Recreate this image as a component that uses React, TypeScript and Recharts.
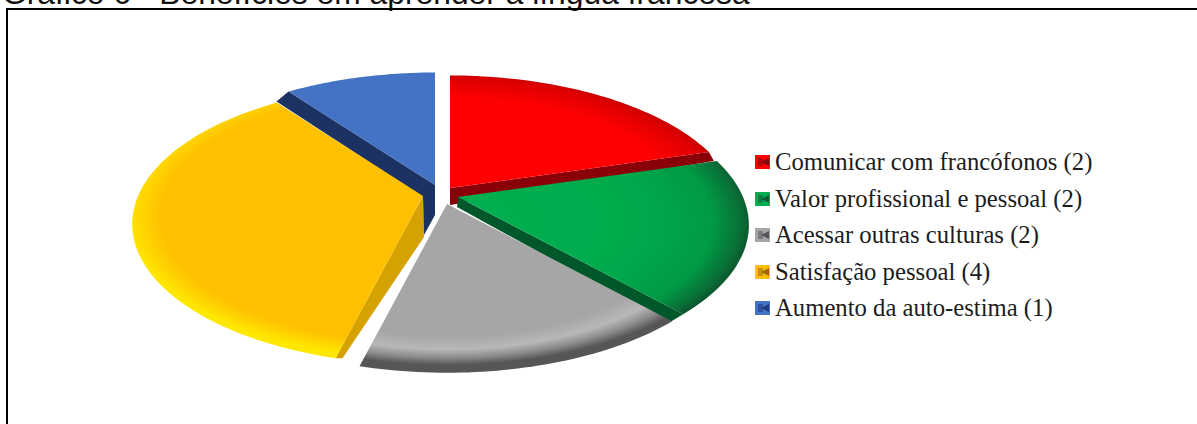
import { Legend, Pie, PieChart } from 'recharts';

const categories = [
  'Comunicar com francófonos',
  'Valor profissional e pessoal',
  'Acessar outras culturas',
  'Satisfação pessoal',
  'Aumento da auto-estima',
];
const responses = [2, 2, 2, 4, 1];

const faceColors = ['#ff0000', '#00b050', '#a6a6a6', '#ffc000', '#4472c4'];
const sideColors = ['#8a0008', '#00582a', 'none', '#d6a200', '#1c3263'];
const swatchColors = ['#7d0a14', '#0c5a38', '#55555f', '#9a6a08', '#1f3a78'];

// [offset, color] stops of each slice's rim shading
const rimStops: [number, string][][] = [
  [[0, '#ff0000'], [0.8, '#ff0000'], [0.94, '#dc0000'], [1, '#b40000']],
  [[0, '#00b050'], [0.62, '#00aa4c'], [0.86, '#009a45'], [0.96, '#0a6c36'], [1, '#0a4f2a']],
  [[0, '#a6a6a6'], [0.8, '#a6a6a6'], [0.89, '#b8b8b8'], [0.95, '#8a8a8a'], [1, '#565656']],
  [[0, '#ffc000'], [0.88, '#ffc000'], [0.96, '#ffd800'], [1.0, '#ffe800']],
  [[0, '#4472c4'], [1, '#4472c4']],
];

// vertical shift of the shading center, relative to the slice apex
const rimCenterY = [25, 25, 18, 20, 25];

// how far each slice is pulled out of the pie
const explode = [[10, -7], [18, 2], [7, 9], [-17, 1], [-5, -10]];

// extrusion of one cut edge: which edge, rim shift, extra vertices below the apex
const sides: { edge: 'start' | 'end'; rim: number[]; apex: number[][] }[] = [
  { edge: 'end', rim: [5, 9], apex: [[0, 17]] },
  { edge: 'end', rim: [-15, 9], apex: [[-1, 10]] },
  { edge: 'end', rim: [0, 0], apex: [] },
  { edge: 'start', rim: [7, 0], apex: [[1, 41]] },
  { edge: 'start', rim: [-12, 10], apex: [[0, 30], [-11, 50], [-12, 12]] },
];

const tableRows = categories.map((name, idx) => ({
  idx,
  name,
  value: responses[idx],
  fill: faceColors[idx],
}));

const PIE_X = 440;
const PIE_Y = 195;
const SPREAD_X = 2.85;
const SPREAD_Y = 1.35;
const PERSPECTIVE = 0.2;
const YAW = 9;

// tilted disc with a little perspective: the back edge is squeezed, the front stretched
function project(angle: number, radius: number, idx: number) {
  const rad = (angle * Math.PI) / 180;
  const c = Math.cos(rad);
  const warped = rad - ((YAW * Math.PI) / 180) * (c > 0 ? c : 0.8 * c);
  const u = Math.cos(warped);
  const v = Math.sin(warped);
  const depth = 1 + PERSPECTIVE * v;
  return [
    PIE_X + explode[idx][0] + (u * radius * SPREAD_X) / depth,
    PIE_Y + explode[idx][1] - (v * radius * SPREAD_Y) / depth,
  ];
}

const toPath = (pts: number[][]) =>
  'M' + pts.map((p) => `${p[0].toFixed(1)},${p[1].toFixed(1)}`).join('L') + 'Z';

function SliceFace(props: any) {
  const idx = props.payload?.idx ?? props.idx;
  const { startAngle, endAngle, outerRadius } = props;
  const apex = [PIE_X + explode[idx][0], PIE_Y + explode[idx][1]];
  const pts = [apex];
  for (let i = 0; i <= 48; i++) {
    pts.push(project(startAngle + ((endAngle - startAngle) * i) / 48, outerRadius, idx));
  }
  const id = `rim-${idx}`;
  return (
    <g>
      <defs>
        <radialGradient
          id={id}
          gradientUnits="userSpaceOnUse"
          cx={0}
          cy={0}
          r={1}
          gradientTransform={`translate(${apex[0]} ${apex[1] + rimCenterY[idx]}) scale(${outerRadius * 2.96} ${outerRadius * 1.43})`}
        >
          {rimStops[idx].map(([offset, color]) => (
            <stop key={offset} offset={offset} stopColor={color} />
          ))}
        </radialGradient>
      </defs>
      <path d={toPath(pts)} fill={`url(#${id})`} />
    </g>
  );
}

function SliceSide(props: any) {
  const idx = props.payload?.idx ?? props.idx;
  const { startAngle, endAngle, outerRadius } = props;
  const side = sides[idx];
  if (side.apex.length === 0) return <g />;
  const apex = [PIE_X + explode[idx][0], PIE_Y + explode[idx][1]];
  const rim = project(side.edge === 'start' ? startAngle : endAngle, outerRadius, idx);
  const pts = [
    apex,
    rim,
    [rim[0] + side.rim[0], rim[1] + side.rim[1]],
    ...[...side.apex].reverse().map((d) => [apex[0] + d[0], apex[1] + d[1]]),
  ];
  return <path d={toPath(pts)} fill={sideColors[idx]} />;
}

function Swatch({ idx }: { idx: number }) {
  return (
    <svg width={15} height={14} style={{ display: 'block', flex: 'none' }}>
      <rect width={15} height={14} fill={faceColors[idx]} />
      <path d="M14,3 L6,7 L14,11 Z" fill={swatchColors[idx]} />
      <rect x={3} y={3} width={5} height={8} fill={swatchColors[idx]} opacity={0.55} />
    </svg>
  );
}

function LegendList() {
  return (
    <div>
      {tableRows.map((row) => (
        <div
          key={row.name}
          style={{
            display: 'flex',
            alignItems: 'center',
            height: 36.5,
            gap: 5,
            fontFamily: '"Liberation Serif", serif',
            fontSize: 24.7,
            color: '#1c1c1c',
            whiteSpace: 'nowrap',
          }}
        >
          <Swatch idx={row.idx} />
          <span>{`${row.name} (${row.value})`}</span>
        </div>
      ))}
    </div>
  );
}

export default function App() {
  return (
    <div
      style={{
        position: 'fixed',
        left: 0,
        top: 0,
        width: 1197,
        height: 424,
        overflow: 'hidden',
        background: '#fff',
      }}
    >
      <div
        style={{
          position: 'absolute',
          left: 2,
          top: -25,
          fontFamily: '"Liberation Sans", sans-serif',
          fontSize: 31.8,
          lineHeight: '36px',
          color: '#111',
          whiteSpace: 'nowrap',
        }}
      >
        Gráfico 6 - Benefícios em aprender a língua francesa
      </div>
      <div
        style={{
          position: 'absolute',
          left: 6,
          top: 8,
          width: 1197,
          height: 424,
          borderTop: '2px solid #000',
          borderLeft: '2px solid #000',
        }}
      />
      <div style={{ position: 'absolute', left: 0, top: 0 }}>
        <PieChart width={1197} height={424} margin={{ top: 0, right: 0, bottom: 0, left: 0 }}>
          <Pie
            data={tableRows}
            dataKey="value"
            nameKey="name"
            cx={PIE_X}
            cy={PIE_Y}
            startAngle={90}
            endAngle={-270}
            innerRadius={0}
            outerRadius={100}
            stroke="none"
            legendType="none"
            shape={SliceSide}
            isAnimationActive={false}
          />
          <Pie
            data={tableRows}
            dataKey="value"
            nameKey="name"
            cx={PIE_X}
            cy={PIE_Y}
            startAngle={90}
            endAngle={-270}
            innerRadius={0}
            outerRadius={100}
            stroke="none"
            shape={SliceFace}
            isAnimationActive={false}
          />
          <Legend
            content={LegendList}
            wrapperStyle={{ left: 755, top: 144, width: 400, bottom: 'auto' }}
          />
        </PieChart>
      </div>
    </div>
  );
}
